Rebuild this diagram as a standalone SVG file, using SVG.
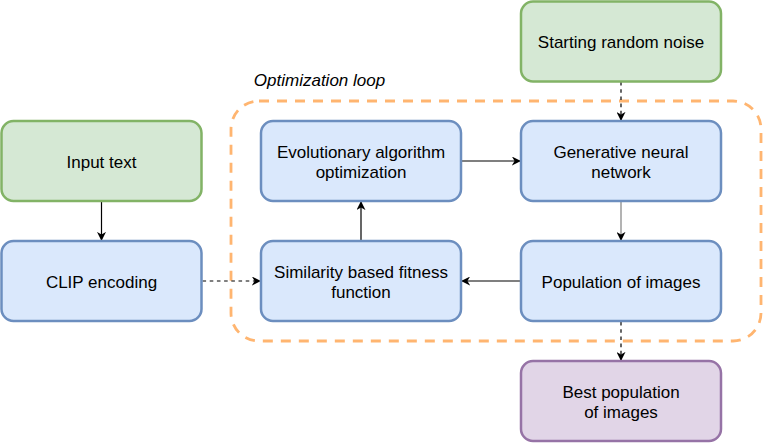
<svg xmlns="http://www.w3.org/2000/svg" width="763" height="443" viewBox="0 0 763 443">
<style>
.box{stroke-width:2.5}
.green{fill:#d5e8d4;stroke:#82b366}
.blue{fill:#dae8fc;stroke:#6c8ebf}
.purple{fill:#e1d5e7;stroke:#9673a6}
text{font-family:"Liberation Sans",Arial,sans-serif;font-size:17px;fill:#000;text-anchor:middle}
.c{fill:none;stroke:#000;stroke-width:1.2}
.dot{stroke-dasharray:3.6 3.6}
</style>
<defs>
<marker id="ah" viewBox="0 0 10 10" refX="9" refY="5" markerWidth="9" markerHeight="9" markerUnits="userSpaceOnUse" orient="auto">
<path d="M0,0 L10,5 L0,10 L3,5 Z" fill="#000"/>
</marker>
</defs>
<g id="loop">
<rect x="231" y="101" width="530" height="240" rx="28" fill="none" stroke="#FFB570" stroke-width="2.8" stroke-dasharray="10 8"/>
<text x="319.5" y="86" style="font-style:italic">Optimization loop</text>
</g>
<g id="connectors">
<path class="c" d="M101.5,202 L101.5,240" marker-end="url(#ah)"/>
<path class="c dot" d="M202.5,281 L260,281" marker-end="url(#ah)"/>
<path class="c" d="M361,240 L361,202" marker-end="url(#ah)"/>
<path class="c" d="M462,161 L520,161" marker-end="url(#ah)"/>
<path d="M621,202 L621,240" fill="none" stroke="#808080" stroke-width="1.2" marker-end="url(#ah)"/>
<path class="c" d="M520,281 L462,281" marker-end="url(#ah)"/>
<path class="c dot" d="M621,82 L621,120" marker-end="url(#ah)"/>
<path class="c dot" d="M621,322 L621,360" marker-end="url(#ah)"/>
</g>
<g id="noise">
<rect class="box green" x="521" y="1.5" width="200" height="80" rx="12"/>
<text x="621" y="48">Starting random noise</text>
</g>
<g id="input">
<rect class="box green" x="1.5" y="121" width="200" height="80" rx="12"/>
<text x="101.5" y="168">Input text</text>
</g>
<g id="clip">
<rect class="box blue" x="1.5" y="241" width="200" height="80" rx="12"/>
<text x="101.5" y="288">CLIP encoding</text>
</g>
<g id="evo">
<rect class="box blue" x="261" y="121" width="200" height="80" rx="12"/>
<text x="361" y="158">Evolutionary algorithm</text>
<text x="361" y="178">optimization</text>
</g>
<g id="gen">
<rect class="box blue" x="521" y="121" width="200" height="80" rx="12"/>
<text x="621" y="158">Generative neural</text>
<text x="621" y="178">network</text>
</g>
<g id="sim">
<rect class="box blue" x="261" y="241" width="200" height="80" rx="12"/>
<text x="361" y="278">Similarity based fitness</text>
<text x="361" y="298">function</text>
</g>
<g id="pop">
<rect class="box blue" x="521" y="241" width="200" height="80" rx="12"/>
<text x="621" y="288">Population of images</text>
</g>
<g id="best">
<rect class="box purple" x="521" y="361" width="200" height="80" rx="12"/>
<text x="621" y="398">Best population</text>
<text x="621" y="418">of images</text>
</g>
</svg>
